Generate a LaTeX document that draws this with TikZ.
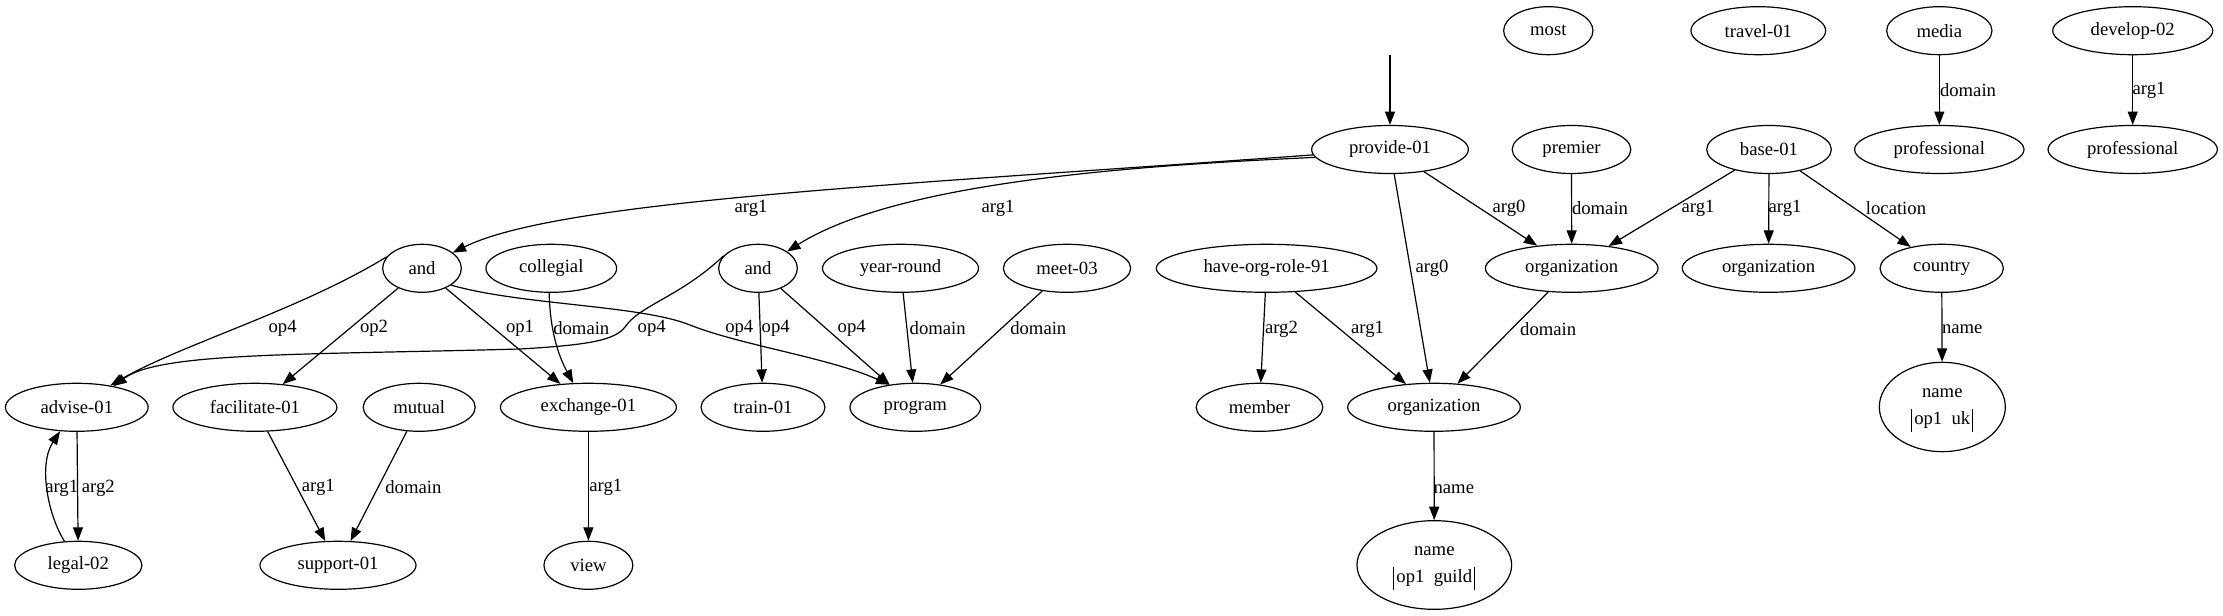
\documentclass[tikz,border=0pt]{standalone}
\usepackage{fontspec}
\setmainfont{Liberation Serif}
\usetikzlibrary{shapes.geometric,arrows.meta}
\newcommand{\vbarx}{\rule[-6pt]{0.8pt}{17.5pt}}
\newcommand{\namelbl}[1]{\rule{0pt}{11.5pt}name\\\vbarx\hspace{1.5pt}op1\hspace{7pt}#1\hspace{1.5pt}\vbarx}
\begin{document}
\begin{tikzpicture}[x=0.75pt,y=-0.75pt,
  n/.style={draw, ellipse, line width=0.9pt, inner sep=0pt, minimum height=36pt,
            font=\fontsize{14}{20}\selectfont, align=center},
  lbl/.style={inner sep=0pt, font=\fontsize{14}{16}\selectfont},
  e/.style={draw, line width=0.9pt, -{Triangle[length=10pt,width=7.5pt]}}]
\useasboundingbox (0,0) rectangle (2223,616);

% row 0
\node[n, minimum width=67pt]  (most)    at (1548.3,30.7) {most};
\node[n, minimum width=101pt] (travel)  at (1758.3,30.7) {travel-01};
\node[n, minimum width=79pt]  (media)   at (1939.3,30.7) {media};
\node[n, minimum width=120pt] (develop) at (2132.7,30.7) {develop-02};
% row 1
\node[n, minimum width=117.5pt] (provide) at (1390,149.5) {provide-01};
\node[n, minimum width=89pt]    (premier) at (1571.5,149.5) {premier};
\node[n, minimum width=93.5pt]  (base)    at (1769,149.5) {base-01};
\node[n, minimum width=127pt]   (profa)   at (1939.3,149.5) {professional};
\node[n, minimum width=127pt]   (profb)   at (2132.7,149.5) {professional};
% row 2
\node[n, minimum width=59pt]    (and1)      at (422,268.3) {and};
\node[n, minimum width=98pt]    (collegial) at (551.3,268.3) {collegial};
\node[n, minimum width=59pt]    (and2)      at (758,268.3) {and};
\node[n, minimum width=117pt]   (yearround) at (900.5,268.3) {year-round};
\node[n, minimum width=95.5pt]  (meet)      at (1067,268.3) {meet-03};
\node[n, minimum width=165.5pt] (haveorg)   at (1266.6,268.3) {have-org-role-91};
\node[n, minimum width=129.5pt] (orga)      at (1571.7,268.3) {organization};
\node[n, minimum width=129.5pt] (orgb)      at (1768.6,268.3) {organization};
\node[n, minimum width=92.5pt]  (country)   at (1941.7,268.3) {country};
% row 3
\node[n, minimum width=107pt]   (advise)     at (76.8,407.3) {advise-01};
\node[n, minimum width=123pt]   (facilitate) at (254.9,407.3) {facilitate-01};
\node[n, minimum width=84pt]    (mutual)     at (419.2,407.3) {mutual};
\node[n, minimum width=132pt]   (exchange)   at (588.4,407.3) {exchange-01};
\node[n, minimum width=93pt]    (train)      at (763,407.3) {train-01};
\node[n, minimum width=98pt]    (program)    at (915.3,407.3) {program};
\node[n, minimum width=95pt]    (member)     at (1259.5,407.3) {member};
\node[n, minimum width=129.5pt] (orgc)       at (1434,407.3) {organization};
\node[n, minimum width=94.5pt, minimum height=67pt] (nameuk) at (1942.3,407) {\namelbl{uk}};
% row 4
\node[n, minimum width=95.5pt] (legal)   at (78.3,565.3) {legal-02};
\node[n, minimum width=117pt]  (support) at (338,565.3) {support-01};
\node[n, minimum width=66.7pt] (view)    at (588.4,565.3) {view};
\node[n, minimum width=116pt, minimum height=66.5pt] (nameguild) at (1434.3,565) {\namelbl{guild}};

% root
\coordinate (root) at (1390,55);
\draw[e] (root) -- (provide);

% edges
\draw[e] (provide.184) .. controls (900,185) and (560,200) .. (and1.27);
\draw[e] (provide.186) .. controls (1150,165) and (900,180) .. (and2.30);
\draw[e] (provide) -- (orga);
\draw[e] (provide) -- (orgc);
\draw[e] (premier) -- (orga);
\draw[e] (base) -- (orga);
\draw[e] (base) -- (orgb);
\draw[e] (base) -- (country);
\draw[e] (media) -- (profa);
\draw[e] (develop) -- (profb);

\draw[e] (and1.162) .. controls (300,310) and (180,345) .. (advise.33);
\draw[e] (and1) -- (facilitate);
\draw[e] (and1) -- (exchange);
\draw[e] (and1.-30) .. controls (520,305) and (640,305) .. (690,325) .. controls (740,345) and (830,358) .. (program.139);
\draw[e] (collegial.265) .. controls (550,330) and (558,355) .. (exchange.122);
\draw[e] (and2.160) .. controls (680,297) and (640,305) .. (625,327) .. controls (615,340) and (590,345) .. (520,349) .. controls (300,355) and (160,352) .. (advise.30);
\draw[e] (and2) -- (train);
\draw[e] (and2) -- (program);
\draw[e] (yearround) -- (program);
\draw[e] (meet) -- (program);
\draw[e] (haveorg) -- (member);
\draw[e] (haveorg) -- (orgc);
\draw[e] (orga) -- (orgc);
\draw[e] (orgc) -- (nameguild);
\draw[e] (country) -- (nameuk);

\draw[e] (advise) -- (legal);
\draw[e] (legal.120) .. controls (48,515) and (38,465) .. (advise.235);
\draw[e] (facilitate) -- (support);
\draw[e] (mutual) -- (support);
\draw[e] (exchange) -- (view);

% labels
\node[lbl] (l1)  at (751,208)     {arg1};
\node[lbl] (l2)  at (998,208)     {arg1};
\node[lbl] (l3)  at (1509,208.3)  {arg0};
\node[lbl] (l4)  at (1600,208.3)  {domain};
\node[lbl] (l5)  at (1698,208.3)  {arg1};
\node[lbl] (l6)  at (1785,208.3)  {arg1};
\node[lbl] (l7)  at (1896,208.3)  {location};
\node[lbl] (l8)  at (1968,90)     {domain};
\node[lbl] (l9)  at (2149,90)     {arg1};
\node[lbl] (l10) at (1432,268)    {arg0};
\node[lbl] (l11) at (282.6,328)   {op4};
\node[lbl] (l12) at (374,328)     {op2};
\node[lbl] (l13) at (520,328)     {op1};
\node[lbl] (l14) at (581.3,328)   {domain};
\node[lbl] (l15) at (651.7,328)   {op4};
\node[lbl] (l16) at (739.3,328)   {op4};
\node[lbl] (l17) at (775.7,328)   {op4};
\node[lbl] (l18) at (851.7,328)   {op4};
\node[lbl] (l19) at (937.7,328)   {domain};
\node[lbl] (l20) at (1038.3,328)  {domain};
\node[lbl] (l21) at (1281.4,329)  {arg2};
\node[lbl] (l22) at (1367.6,329)  {arg1};
\node[lbl] (l23) at (1548.2,329)  {domain};
\node[lbl] (l24) at (1962.2,329)  {name};
\node[lbl] (l25) at (1453.8,489)  {name};
\node[lbl] (l26) at (61.7,488)    {arg1};
\node[lbl] (l27) at (98.3,488)    {arg2};
\node[lbl] (l28) at (318.3,487)   {arg1};
\node[lbl] (l29) at (413.4,487)   {domain};
\node[lbl] (l30) at (605.8,487)   {arg1};
\end{tikzpicture}
\end{document}
